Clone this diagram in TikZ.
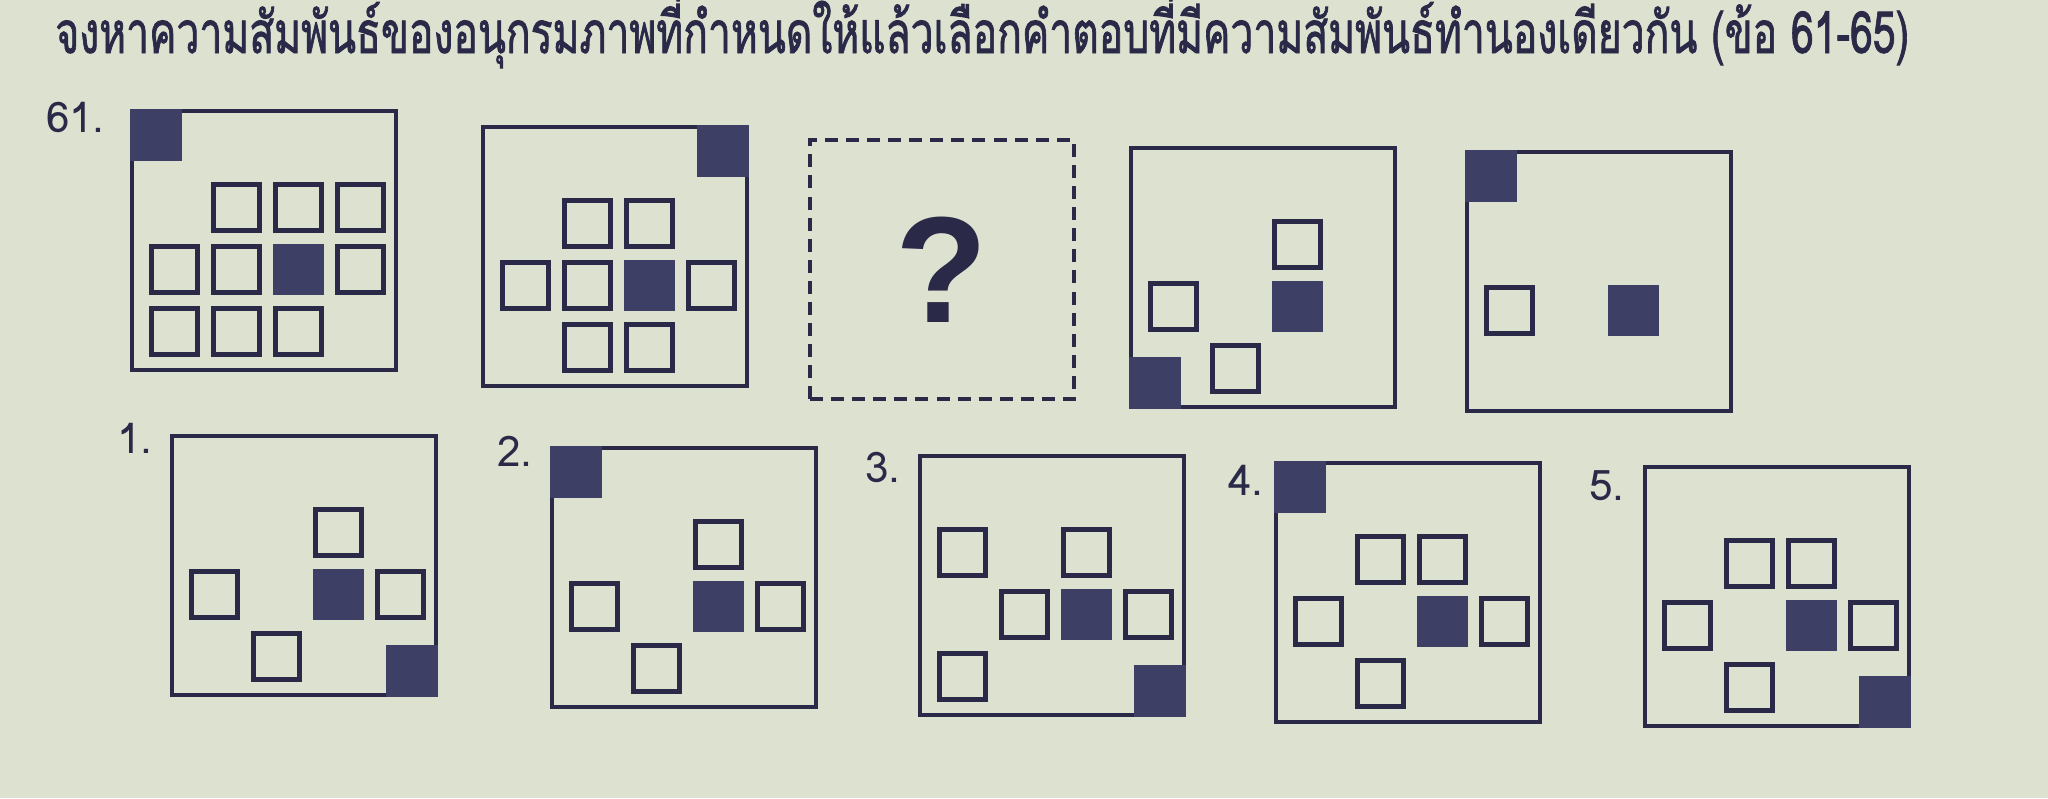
\documentclass[tikz,border=0pt]{standalone}
\usepackage{fontspec}
\usepackage{graphicx}
\newfontfamily\thaifont[Script=Thai]{Loma}
\newfontfamily\headfont[Script=Thai, FakeBold=1.6]{Loma}
\newfontfamily\qfont{Liberation Sans}
\definecolor{paper}{RGB}{220,225,208}
\definecolor{ink}{RGB}{42,42,72}
\definecolor{block}{RGB}{62,63,100}

\begin{document}
\begin{tikzpicture}[
    x=0.02cm, y=-0.02cm,
    frame/.style={draw=ink, line width=2.4pt, minimum width=5.28cm, minimum height=5.18cm, inner sep=0pt},
    dashframe/.style={frame, dash pattern=on 7.4pt off 4.6pt},
    cell/.style={draw=ink, line width=2.8pt, minimum size=0.92cm, inner sep=0pt},
    fillcell/.style={cell, fill=block, draw=block},
    corner/.style={fill=block, minimum size=1.04cm, inner sep=0pt},
    numlabel/.style={text=ink, font=\thaifont\fontsize{24}{26}\selectfont, inner sep=0pt, anchor=north east}
]
\useasboundingbox[fill=paper] (0,0) rectangle (2048,798);

% heading
\node[anchor=base west, inner sep=0pt, text=ink] (title) at (55,53)
  {\resizebox{37.08cm}{1.18\height}{\headfont\fontsize{28}{30}\selectfont จงหาความสัมพันธ์ของอนุกรมภาพที่กำหนดให้แล้วเลือกคำตอบที่มีความสัมพันธ์ทำนองเดียวกัน (ข้อ 61-65)}};

% question row
\begin{scope}[shift={(130,109)}]
  \node[numlabel] (n61) at (-25,-7) {61.};
  \node[frame] (p1) at (134,131.5) {};
  \node[corner, anchor=north west] (p1k) at (0,0) {};
  \foreach \c/\r in {1/0,2/0,3/0,0/1,1/1,3/1,0/2,1/2,2/2}
    \node[cell] (p1-\c-\r) at ({44.5+62*\c},{98.5+62*\r}) {};
  \node[fillcell] (p1-2-1) at ({44.5+62*2},{98.5+62}) {};
\end{scope}

\begin{scope}[shift={(481,125)}]
  \node[frame] (p2) at (134,131.5) {};
  \node[corner, anchor=north east] (p2k) at (268,0) {};
  \foreach \c/\r in {1/0,2/0,0/1,1/1,3/1,1/2,2/2}
    \node[cell] (p2-\c-\r) at ({44.5+62*\c},{98.5+62*\r}) {};
  \node[fillcell] (p2-2-1) at ({44.5+62*2},{98.5+62}) {};
\end{scope}

\begin{scope}[shift={(808,138)}]
  \node[frame, dashframe] (p3) at (134,131.5) {};
  \node[text=ink, font=\qfont\bfseries\fontsize{86}{86}\selectfont, inner sep=0pt] (ask) at (p3.center) {?};
\end{scope}

\begin{scope}[shift={(1129,146)}]
  \node[frame] (p4) at (134,131.5) {};
  \node[corner, anchor=south west] (p4k) at (0,263) {};
  \foreach \c/\r in {2/0,0/1,1/2}
    \node[cell] (p4-\c-\r) at ({44.5+62*\c},{98.5+62*\r}) {};
  \node[fillcell] (p4-2-1) at ({44.5+62*2},{98.5+62}) {};
\end{scope}

\begin{scope}[shift={(1465,150)}]
  \node[frame] (p5) at (134,131.5) {};
  \node[corner, anchor=north west] (p5k) at (0,0) {};
  \node[cell] (p5-0-1) at (44.5,160.5) {};
  \node[fillcell] (p5-2-1) at ({44.5+62*2},160.5) {};
\end{scope}

% answer row
\begin{scope}[shift={(170,434)}]
  \node[numlabel] (n1) at (-17,-11) {1.};
  \node[frame] (o1) at (134,131.5) {};
  \node[corner, anchor=south east] (o1k) at (268,263) {};
  \foreach \c/\r in {2/0,0/1,3/1,1/2}
    \node[cell] (o1-\c-\r) at ({44.5+62*\c},{98.5+62*\r}) {};
  \node[fillcell] (o1-2-1) at ({44.5+62*2},{98.5+62}) {};
\end{scope}

\begin{scope}[shift={(550,446)}]
  \node[numlabel] (n2) at (-17,-10) {2.};
  \node[frame] (o2) at (134,131.5) {};
  \node[corner, anchor=north west] (o2k) at (0,0) {};
  \foreach \c/\r in {2/0,0/1,3/1,1/2}
    \node[cell] (o2-\c-\r) at ({44.5+62*\c},{98.5+62*\r}) {};
  \node[fillcell] (o2-2-1) at ({44.5+62*2},{98.5+62}) {};
\end{scope}

\begin{scope}[shift={(918,454)}]
  \node[numlabel] (n3) at (-17,-2) {3.};
  \node[frame] (o3) at (134,131.5) {};
  \node[corner, anchor=south east] (o3k) at (268,263) {};
  \foreach \c/\r in {0/0,2/0,1/1,3/1,0/2}
    \node[cell] (o3-\c-\r) at ({44.5+62*\c},{98.5+62*\r}) {};
  \node[fillcell] (o3-2-1) at ({44.5+62*2},{98.5+62}) {};
\end{scope}

\begin{scope}[shift={(1274,461)}]
  \node[numlabel] (n4) at (-10,4) {4.};
  \node[frame] (o4) at (134,131.5) {};
  \node[corner, anchor=north west] (o4k) at (0,0) {};
  \foreach \c/\r in {1/0,2/0,0/1,3/1,1/2}
    \node[cell] (o4-\c-\r) at ({44.5+62*\c},{98.5+62*\r}) {};
  \node[fillcell] (o4-2-1) at ({44.5+62*2},{98.5+62}) {};
\end{scope}

\begin{scope}[shift={(1643,465)}]
  \node[numlabel] (n5) at (-18,5) {5.};
  \node[frame] (o5) at (134,131.5) {};
  \node[corner, anchor=south east] (o5k) at (268,263) {};
  \foreach \c/\r in {1/0,2/0,0/1,3/1,1/2}
    \node[cell] (o5-\c-\r) at ({44.5+62*\c},{98.5+62*\r}) {};
  \node[fillcell] (o5-2-1) at ({44.5+62*2},{98.5+62}) {};
\end{scope}

\end{tikzpicture}
\end{document}
